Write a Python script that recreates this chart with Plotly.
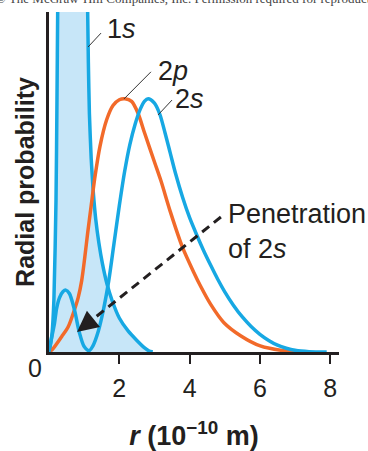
import plotly.graph_objects as go

# Radial probability curves for hydrogen-like orbitals, r in units of 1e-10 m
r_1s = [0.0, 0.04, 0.085, 0.14, 0.2, 0.227, 0.247, 0.3, 0.4, 0.6, 0.8, 0.95, 1.05, 1.10,
        1.12, 1.15, 1.20, 1.26, 1.33, 1.42, 1.52, 1.65, 1.80, 2.00, 2.25, 2.50, 2.72,
        2.85, 2.95]
p_1s = [0.0, 0.02, 0.053, 0.155, 0.45, 0.742, 1.0, 1.5, 1.9, 2.2, 2.0, 1.6, 1.25, 1.0,
        0.85, 0.70, 0.57, 0.47, 0.39, 0.32, 0.26, 0.20, 0.15, 0.10, 0.062, 0.034, 0.012,
        0.003, 0.0]

r_2p = [0.0, 0.1, 0.36, 0.55, 0.71, 0.83, 0.93, 1.02, 1.1, 1.2, 1.3, 1.45, 1.64, 1.82, 2.0,
        2.16, 2.35, 2.53, 2.72, 3.01, 3.18, 3.46, 3.79, 4.12, 4.31, 4.6, 4.97, 5.45, 6.01,
        6.67, 7.15]
p_2p = [0.0, 0.008, 0.045, 0.075, 0.12, 0.16, 0.21, 0.28, 0.35, 0.43, 0.51, 0.605, 0.683,
        0.725, 0.742, 0.745, 0.737, 0.703, 0.644, 0.556, 0.505, 0.41, 0.31, 0.234, 0.194,
        0.14, 0.087, 0.048, 0.018, 0.004, 0.0]

r_2s = [0.0, 0.05, 0.15, 0.22, 0.3, 0.4, 0.48, 0.58, 0.72, 0.86, 1.0, 1.14, 1.25, 1.40,
        1.55, 1.70, 1.85, 2.00, 2.15, 2.30, 2.45, 2.60, 2.72, 2.82, 3.00, 3.15, 3.30, 3.45,
        3.60, 3.80, 4.00, 4.20, 4.40, 4.60, 4.80, 5.00, 5.25, 5.50, 5.75, 6.00, 6.25, 6.50,
        6.75, 7.00, 7.40, 7.90]
p_2s = [0.0, 0.03, 0.08, 0.13, 0.16, 0.178, 0.182, 0.172, 0.126, 0.059, 0.016, 0.004, 0.018,
        0.06, 0.125, 0.21, 0.32, 0.43, 0.53, 0.61, 0.67, 0.715, 0.738, 0.745, 0.732, 0.70,
        0.645, 0.585, 0.525, 0.455, 0.395, 0.345, 0.298, 0.255, 0.214, 0.177, 0.137, 0.103,
        0.075, 0.052, 0.034, 0.02, 0.011, 0.005, 0.001, 0.0]

x_ticks = [2, 4, 6, 8]
x_tick_text = ["2", "4", "6", "8"]

# Curve labels: text, anchor point, leader line (start, end)
labels = ["1<i>s</i>", "2<i>p</i>", "2<i>s</i>"]
label_r = [1.60, 3.05, 3.54]
label_p = [0.95, 0.826, 0.744]
leader_r = [(1.11, 1.48), (2.13, 2.90), (3.10, 3.50)]
leader_p = [(0.897, 0.938), (0.744, 0.824), (0.697, 0.741)]

note_text = "Penetration<br>of 2<i>s</i>"
note_r, note_p = 5.04, 0.354
arrow_tail = (4.89, 0.397)
arrow_tip = (0.797, 0.059)

CYAN = "#17a8e3"
ORANGE = "#f26a2a"
FILL = "#c7e6f8"
INK = "#231f20"
FONT = "Liberation Sans, Arial, Helvetica, sans-serif"

fig = go.Figure()

fig.add_trace(go.Scatter(
    x=r_1s, y=p_1s, mode="lines", fill="tozeroy", fillcolor=FILL,
    line=dict(color=CYAN, width=3.5, shape="spline", smoothing=0.6),
    hoverinfo="skip", showlegend=False))
fig.add_trace(go.Scatter(
    x=r_2p, y=p_2p, mode="lines",
    line=dict(color=ORANGE, width=3.5, shape="spline", smoothing=0.8),
    hoverinfo="skip", showlegend=False))
fig.add_trace(go.Scatter(
    x=r_2s, y=p_2s, mode="lines",
    line=dict(color=CYAN, width=3.5, shape="spline", smoothing=0.8),
    hoverinfo="skip", showlegend=False))

# leader lines from the curves to their labels
for lr, lp in zip(leader_r, leader_p):
    fig.add_trace(go.Scatter(
        x=list(lr), y=list(lp), mode="lines",
        line=dict(color="#333333", width=1),
        hoverinfo="skip", showlegend=False))

# dashed shaft of the penetration arrow
frac = 0.1
head_base = (arrow_tip[0] + frac * (arrow_tail[0] - arrow_tip[0]),
             arrow_tip[1] + frac * (arrow_tail[1] - arrow_tip[1]))
fig.add_trace(go.Scatter(
    x=[arrow_tail[0], head_base[0]], y=[arrow_tail[1], head_base[1]], mode="lines",
    line=dict(color=INK, width=3, dash="9px,6px"),
    hoverinfo="skip", showlegend=False))

annotations = []
for t, x, y in zip(labels, label_r, label_p):
    annotations.append(dict(x=x, y=y, xref="x", yref="y", text=t, showarrow=False,
                            xanchor="left", yanchor="middle",
                            font=dict(family=FONT, size=27, color=INK)))

annotations.append(dict(x=note_r, y=note_p, xref="x", yref="y", text=note_text,
                        showarrow=False, xanchor="left", yanchor="middle", align="left",
                        font=dict(family=FONT, size=27, color=INK)))

# arrowhead of the penetration arrow
annotations.append(dict(x=arrow_tip[0], y=arrow_tip[1], xref="x", yref="y",
                        ax=head_base[0] + 0.05, ay=head_base[1] + 0.004, axref="x", ayref="y",
                        text="", showarrow=True, arrowhead=2, arrowsize=1.4,
                        arrowwidth=3, arrowcolor=INK))

# origin label
annotations.append(dict(x=-0.048, y=-0.048, xref="paper", yref="paper", text="0",
                        showarrow=False, xanchor="center", yanchor="middle",
                        font=dict(family=FONT, size=25, color=INK)))

# publisher credit line along the top edge
annotations.append(dict(x=-0.19, y=1.0118, xref="paper", yref="paper",
                        text="© The McGraw-Hill Companies, Inc. Permission required for reproduction or display.",
                        showarrow=False, xanchor="left", yanchor="bottom",
                        font=dict(family="Liberation Serif, Times New Roman, serif", size=13,
                                  color="#444444")))

fig.update_layout(
    width=368, height=451,
    margin=dict(l=49, r=29, t=12, b=99),
    paper_bgcolor="white", plot_bgcolor="white",
    annotations=annotations,
    xaxis=dict(
        range=[0, 8.25], showline=True, linecolor=INK, linewidth=3,
        showgrid=False, zeroline=False,
        ticks="outside", tickvals=x_ticks, ticktext=x_tick_text,
        ticklen=9, tickwidth=2, tickcolor=INK, ticklabelstandoff=3,
        tickfont=dict(family=FONT, size=25, color=INK),
        title=dict(text="<b><i>r</i> (10<sup>−10</sup> m)</b>", standoff=26,
                   font=dict(family=FONT, size=27, color=INK)),
        automargin=False, fixedrange=True),
    yaxis=dict(
        range=[0, 1], showline=True, linecolor=INK, linewidth=3,
        showgrid=False, zeroline=False, ticks="", showticklabels=False,
        title=dict(text="<b>Radial probability</b>", standoff=5,
                   font=dict(family=FONT, size=25, color=INK)),
        automargin=False, fixedrange=True),
)

fig.write_html("out.html")
